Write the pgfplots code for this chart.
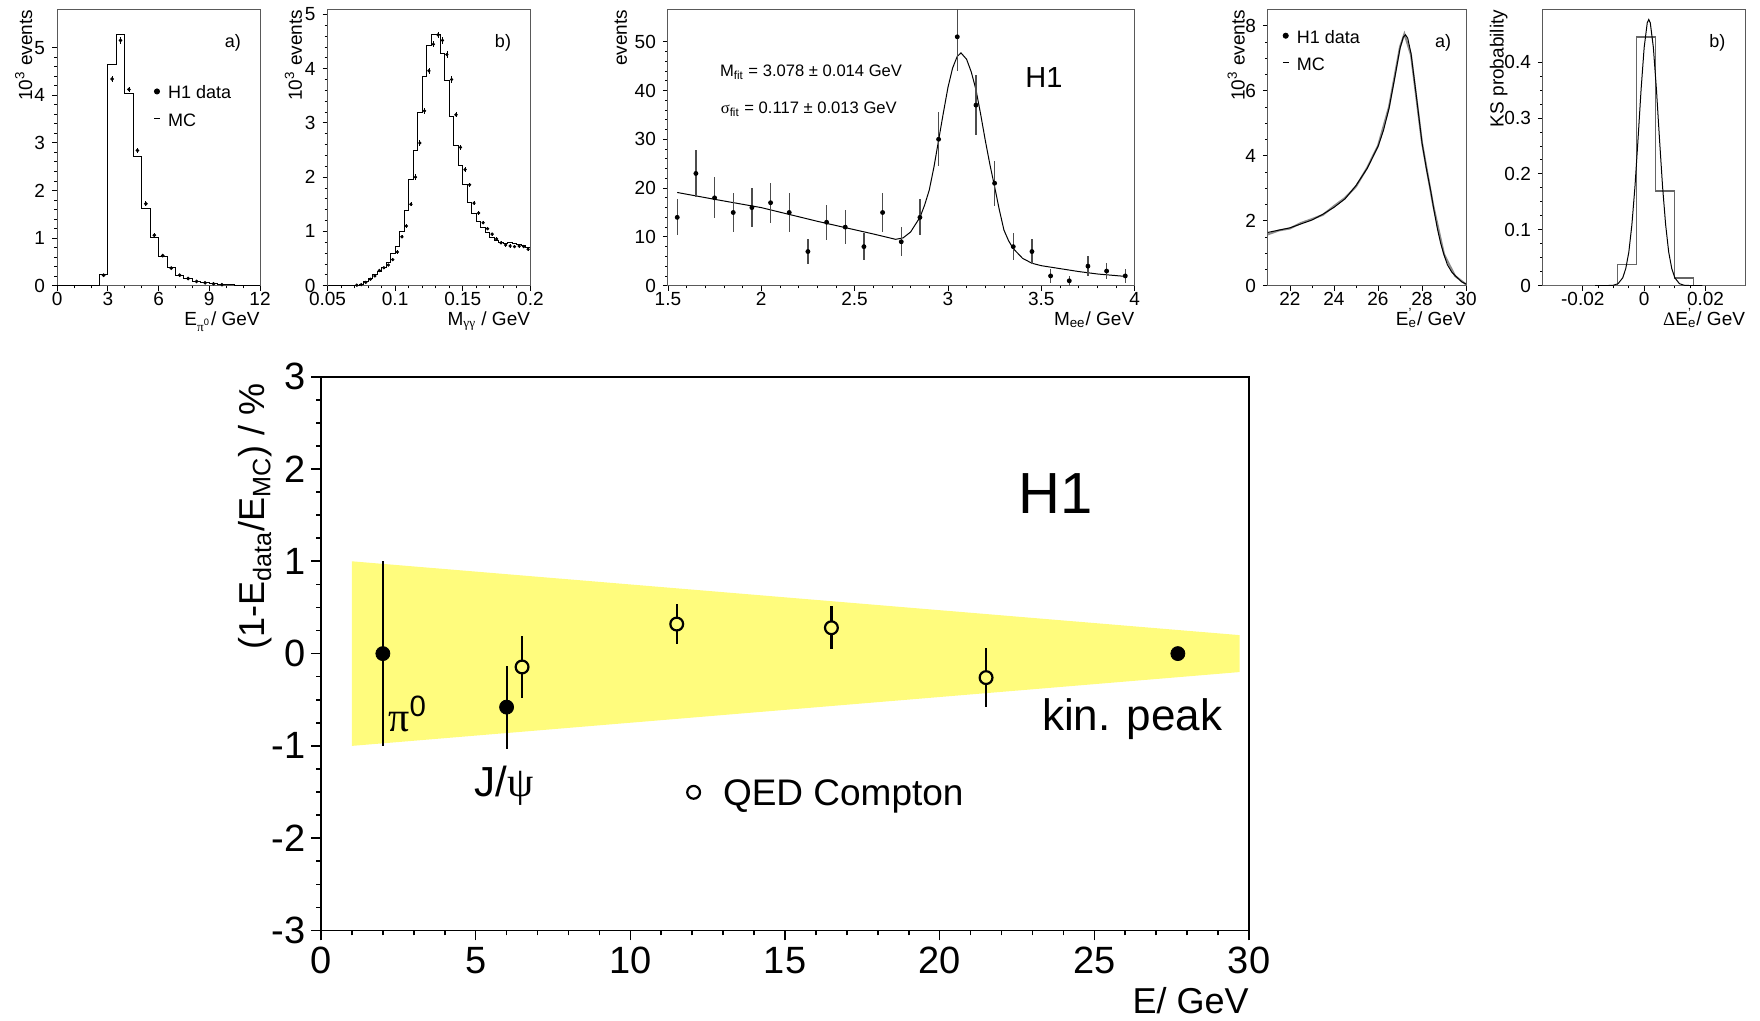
\documentclass[border=0pt]{standalone}
\usepackage{fontspec}
\setmainfont{Liberation Sans}
\newfontfamily\grk{Liberation Serif}
\usepackage{pgfplots}
\pgfplotsset{compat=1.18}

\definecolor{band}{RGB}{255,252,125}
\definecolor{frame}{gray}{0.35}
\newcommand{\fs}[1]{\fontsize{#1}{#1}\selectfont}

\tikzset{tag/.style={anchor=base west, inner sep=0pt, font=\fs{9}}}

\pgfplotsset{
  top/.style={
    scale only axis, anchor=south west, height=138.1pt,
    ymin=0,
    axis line style={frame, line width=0.5pt},
    tick pos=left, tick align=outside,
    major tick length=2.5pt, minor tick length=1.4pt,
    every tick/.append style={black, line width=0.4pt},
    scaled ticks=false,
    tick label style={font=\fs{9.5}},
    xticklabel style={inner sep=0.6pt},
    label style={font=\fs{9.5}},
    xlabel style={at={(rel axis cs:1,-0.1424)}, anchor=base east, inner sep=0pt},
  },
  ylab/.style={ylabel style={at={(rel axis cs:#1,1)}, anchor=base east, inner sep=0pt}},
  toplegend/.style={legend style={draw=none, fill=none, inner sep=0pt, outer sep=0pt,
      at={#1}, anchor=north west, font=\fs{9}, row sep=6.05pt,
      cells={anchor=base west},
      nodes={inner sep=0pt, text height=6.45pt, text depth=1.35pt}}},
  dataimg/.style={legend image code/.code={%
      \path[draw=none, fill=none] (-2pt,0pt) -- (5.6pt,0pt);
      \draw[black, mark=*, mark size=1.3pt] plot coordinates {(0pt,3.7pt)};}},
  mcimg/.style={legend image code/.code={%
      \path[draw=none, fill=none] (-2pt,0pt) -- (5.6pt,0pt);
      \draw[black, line width=0.6pt] (-1.4pt,4pt) -- (1.4pt,4pt);}},
  hdata/.style={black, only marks, mark=*, mark size=0.7pt,
    error bars/y dir=both, error bars/y explicit, error bars/error mark=none,
    error bars/error bar style={line width=0.4pt}},
}

\begin{document}
\begin{tikzpicture}
\path[use as bounding box] (0pt,0pt) rectangle (880pt,510.5pt);

% ---- a) pi0 energy
\begin{axis}[top, at={(28.55pt,367.65pt)}, width=101.45pt,
  xmin=0, xmax=12, ymax=5.8,
  xtick={0,3,6,9,12}, xticklabels={0,3,6,9,12},
  ytick={0,1,2,3,4,5}, yticklabels={0,1,2,3,4,5},
  minor x tick num=2, minor y tick num=4,
  xlabel={E\textsubscript{{\grk π}\textsuperscript{0}}/ GeV},
  ylabel={10\textsuperscript{3} events}, ylab=-0.1232,
  toplegend={(0.4726,0.7232)}]
\addlegendimage{dataimg}\addlegendentry{H1 data}
\addlegendimage{mcimg}\addlegendentry{MC}
\addplot[const plot, black, line width=0.5pt, forget plot] table[row sep=crcr]{
0 0\\ 2.5 0.24\\ 3 4.65\\ 3.5 5.28\\ 4 4.03\\ 4.5 2.71\\ 5 1.63\\ 5.5 1.02\\
6 0.62\\ 6.5 0.38\\ 7 0.22\\ 7.5 0.15\\ 8 0.08\\ 8.5 0.06\\ 9 0.04\\ 9.5 0.03\\
10 0.015\\ 10.5 0\\ 12 0\\
};
\addplot[hdata, forget plot] table[row sep=crcr, y error index=2]{
2.75 0.22 0.03\\ 3.25 4.34 0.07\\ 3.75 5.15 0.08\\ 4.25 4.12 0.06\\
4.75 2.84 0.06\\ 5.25 1.72 0.05\\ 5.75 1.06 0.04\\ 6.25 0.63 0.03\\
6.75 0.37 0.03\\ 7.25 0.22 0.02\\ 7.75 0.15 0.02\\ 8.25 0.09 0.02\\
8.75 0.06 0.01\\ 9.25 0.04 0.01\\ 9.75 0.02 0.01\\
};
\node[tag] at (rel axis cs:0.825,0.861) {a)};
\end{axis}

% ---- b) two-photon mass
\begin{axis}[top, at={(163.75pt,367.65pt)}, width=101.45pt,
  xmin=0.05, xmax=0.2, ymax=5.09,
  xtick={0.05,0.1,0.15,0.2}, xticklabels={0.05,0.1,0.15,0.2},
  ytick={0,1,2,3,4,5}, yticklabels={0,1,2,3,4,5},
  minor x tick num=4, minor y tick num=4,
  xlabel={M\textsubscript{{\grk γγ}} / GeV},
  ylabel={10\textsuperscript{3} events}, ylab=-0.1267]
\addplot[const plot, black, line width=0.5pt] table[row sep=crcr]{
0.0500 0\\ 0.0700 0.01\\ 0.0733 0.03\\ 0.0767 0.07\\ 0.0800 0.13\\ 0.0833 0.20\\
0.0867 0.27\\ 0.0900 0.33\\ 0.0933 0.43\\ 0.0967 0.60\\ 0.1000 0.72\\ 0.1033 0.99\\
0.1067 1.38\\ 0.1100 1.96\\ 0.1133 2.50\\ 0.1167 3.20\\ 0.1200 3.85\\ 0.1233 4.43\\
0.1267 4.63\\ 0.1300 4.63\\ 0.1333 4.28\\ 0.1367 3.78\\ 0.1400 3.12\\ 0.1433 2.58\\
0.1467 2.22\\ 0.1500 1.86\\ 0.1533 1.53\\ 0.1567 1.33\\ 0.1600 1.18\\ 0.1633 1.08\\
0.1667 0.98\\ 0.1700 0.88\\ 0.1733 0.84\\ 0.1767 0.80\\ 0.1800 0.78\\ 0.1833 0.79\\
0.1867 0.78\\ 0.1900 0.75\\ 0.1933 0.74\\ 0.1967 0.70\\ 0.2000 0.70\\
};
\addplot[hdata, mark size=0.6pt] table[row sep=crcr, y error index=2]{
0.0717 0.01 0.01\\ 0.0750 0.02 0.01\\ 0.0783 0.06 0.01\\ 0.0817 0.12 0.02\\
0.0850 0.18 0.02\\ 0.0883 0.28 0.02\\ 0.0917 0.33 0.02\\ 0.0950 0.38 0.02\\
0.0983 0.48 0.03\\ 0.1017 0.62 0.03\\ 0.1050 0.90 0.03\\ 0.1083 1.10 0.04\\
0.1117 1.50 0.04\\ 0.1150 2.00 0.05\\ 0.1183 2.63 0.05\\ 0.1217 3.22 0.05\\
0.1250 3.96 0.06\\ 0.1283 4.45 0.06\\ 0.1317 4.62 0.06\\ 0.1350 4.52 0.06\\
0.1383 4.26 0.06\\ 0.1417 3.80 0.06\\ 0.1450 3.15 0.05\\ 0.1483 2.55 0.05\\
0.1517 2.14 0.05\\ 0.1550 1.86 0.04\\ 0.1583 1.52 0.04\\ 0.1617 1.34 0.04\\
0.1650 1.16 0.03\\ 0.1683 1.05 0.03\\ 0.1717 0.95 0.03\\ 0.1750 0.86 0.03\\
0.1783 0.79 0.03\\ 0.1817 0.75 0.03\\ 0.1850 0.73 0.03\\ 0.1883 0.72 0.03\\
0.1917 0.73 0.03\\ 0.1950 0.72 0.03\\ 0.1983 0.67 0.03\\
};
\node[tag] at (rel axis cs:0.8235,0.861) {b)};
\end{axis}

% ---- J/psi mass
\begin{axis}[top, at={(333.95pt,367.65pt)}, width=233.35pt,
  xmin=1.5, xmax=4, ymax=56.6,
  xtick={1.5,2,2.5,3,3.5,4}, xticklabels={1.5,2,2.5,3,3.5,4},
  ytick={0,10,20,30,40,50}, yticklabels={0,10,20,30,40,50},
  minor x tick num=4, minor y tick num=4,
  xlabel={M\textsubscript{ee}/ GeV},
  ylabel={events}, ylab=-0.0881]
\addplot[black, line width=0.5pt] table[row sep=crcr]{
1.55 19.1\\ 1.75 17.7\\ 2.0 16.0\\ 2.15 14.6\\ 2.3 13.2\\ 2.45 11.9\\ 2.6 10.6\\
2.72 9.5\\ 2.76 9.8\\ 2.8 11.0\\ 2.85 14.0\\ 2.875 16.5\\ 2.9 19.6\\ 2.925 24.3\\
2.95 29.8\\ 2.975 35.3\\ 3.0 40.6\\ 3.025 44.6\\ 3.05 47.0\\ 3.07 47.7\\ 3.1 46.4\\
3.125 43.8\\ 3.15 40.2\\ 3.175 35.2\\ 3.2 29.8\\ 3.225 24.8\\ 3.25 20.3\\ 3.275 15.6\\
3.3 11.4\\ 3.325 9.2\\ 3.35 7.6\\ 3.4 5.6\\ 3.45 4.6\\ 3.5 4.1\\ 3.6 3.5\\ 3.7 2.9\\
3.8 2.4\\ 3.95 1.9\\
};
\addplot[hdata, mark size=1pt, error bars/error bar style={line width=0.6pt, black!70}]
  table[row sep=crcr, y error index=2]{
1.55 14 3.7\\ 1.65 23 4.8\\ 1.75 18 4.2\\ 1.85 15 3.9\\ 1.95 16 4.0\\
2.05 17 4.1\\ 2.15 15 3.9\\ 2.25 7 2.6\\ 2.35 13 3.6\\ 2.45 12 3.5\\
2.55 8 2.8\\ 2.65 15 3.9\\ 2.75 9 3.0\\ 2.85 14 3.7\\ 2.95 30 5.5\\
3.05 51 7.1\\ 3.15 37 6.1\\ 3.25 21 4.6\\ 3.35 8 2.8\\ 3.45 7 2.6\\
3.55 2 1.4\\ 3.65 1 1.0\\ 3.75 4 2.0\\ 3.85 3 1.7\\ 3.95 2 1.4\\
};
\node[anchor=base west, inner sep=0pt, font=\fs{8.3}] at (rel axis cs:0.1108,0.756)
  {M\textsubscript{fit} = 3.078 ± 0.014 GeV};
\node[anchor=base west, inner sep=0pt, font=\fs{8.3}] at (rel axis cs:0.1125,0.6237)
  {{\grk σ}\textsubscript{fit} = 0.117 ± 0.013 GeV};
\node[anchor=base west, inner sep=0pt, font=\fs{14.5}] at (rel axis cs:0.765,0.717) {H1};
\end{axis}

% ---- a) scattered electron energy
\begin{axis}[top, at={(633.95pt,367.65pt)}, width=99.05pt,
  xmin=21, xmax=30, ymax=8.5,
  xtick={22,24,26,28,30}, xticklabels={22,24,26,28,30},
  ytick={0,2,4,6,8}, yticklabels={0,2,4,6,8},
  minor x tick num=1, minor y tick num=3,
  xlabel={E\rlap{\textsuperscript{'}}\textsubscript{e}/ GeV},
  ylabel={10\textsuperscript{3} events}, ylab=-0.1176,
  toplegend={(0.0697,0.925)}]
\addlegendimage{dataimg}\addlegendentry{H1 data}
\addlegendimage{mcimg}\addlegendentry{MC}
\addplot[black!45, line width=1pt, forget plot] table[row sep=crcr]{
21.0 1.58\\ 21.5 1.70\\ 22.0 1.76\\ 22.5 1.93\\ 23.0 2.05\\ 23.5 2.18\\ 24.0 2.45\\
24.5 2.70\\ 25.0 3.05\\ 25.5 3.62\\ 26.0 4.30\\ 26.5 5.50\\ 27.0 7.35\\ 27.2 7.75\\
27.5 7.10\\ 28.0 4.40\\ 28.5 2.50\\ 29.0 0.97\\ 29.5 0.30\\ 30.0 0.04\\
};
\addplot[black, line width=0.5pt, forget plot] table[row sep=crcr]{
21.0 1.64\\ 21.5 1.71\\ 22.0 1.78\\ 22.5 1.90\\ 23.0 2.02\\ 23.5 2.20\\ 24.0 2.41\\
24.5 2.67\\ 25.0 3.08\\ 25.5 3.60\\ 26.0 4.28\\ 26.25 4.78\\ 26.5 5.45\\ 26.75 6.35\\
27.0 7.30\\ 27.15 7.65\\ 27.25 7.72\\ 27.35 7.62\\ 27.5 7.15\\ 27.75 5.80\\ 28.0 4.40\\
28.2 3.60\\ 28.4 2.90\\ 28.55 2.30\\ 28.7 1.75\\ 28.85 1.30\\ 29.0 0.95\\ 29.15 0.65\\
29.35 0.42\\ 29.6 0.25\\ 29.8 0.12\\ 30.0 0.05\\
};
\node[tag] at (rel axis cs:0.8415,0.861) {a)};
\end{axis}

% ---- b) KS probability
\begin{axis}[top, at={(771.45pt,367.65pt)}, width=101.25pt,
  xmin=-0.033, xmax=0.033, ymax=0.494,
  xtick={-0.02,0,0.02}, xticklabels={-0.02,0,0.02},
  ytick={0,0.1,0.2,0.3,0.4}, yticklabels={0,0.1,0.2,0.3,0.4},
  minor x tick num=3, minor y tick num=3,
  xlabel={{\grk Δ}E\rlap{\textsuperscript{'}}\textsubscript{e}/ GeV},
  ylabel={KS probability}, ylab=-0.1946]
\addplot[const plot, black!60, line width=0.8pt] coordinates {
(-0.033,0) (-0.0087,0.038) (-0.0025,0.445) (0.0037,0.169) (0.0099,0.0137) (0.0161,0) (0.033,0)};
\addplot[black, line width=0.5pt] coordinates {
(-0.016,0) (-0.012,0.0002) (-0.0100,0.0008) (-0.0085,0.0036) (-0.007,0.014) (-0.006,0.0305)
(-0.005,0.060) (-0.004,0.109) (-0.003,0.177) (-0.002,0.262) (-0.001,0.351) (0,0.426)
(0.001,0.470) (0.0015,0.476) (0.002,0.470) (0.003,0.426) (0.004,0.351) (0.005,0.262)
(0.006,0.177) (0.007,0.109) (0.008,0.060) (0.009,0.0305) (0.010,0.014) (0.0115,0.0036)
(0.013,0.0008) (0.015,0.0002) (0.019,0)};
\node[tag] at (rel axis cs:0.820,0.861) {b)};
\end{axis}

% ---- energy scale summary
\begin{axis}[at={(160.5pt,45.25pt)}, anchor=south west, scale only axis,
  width=464pt, height=276.9pt,
  xmin=0, xmax=30, ymin=-3, ymax=3,
  xtick={0,5,10,15,20,25,30}, xticklabels={0,5,10,15,20,25,30},
  ytick={-3,-2,-1,0,1,2,3}, yticklabels={-3,-2,-1,0,1,2,3},
  minor x tick num=4, minor y tick num=3,
  tick pos=left, tick align=outside,
  major tick length=5pt, minor tick length=2.5pt,
  every tick/.append style={black, line width=0.8pt},
  axis line style={black, line width=0.8pt},
  tick label style={font=\fs{19}},
  xticklabel style={inner sep=3pt},
  yticklabel style={inner sep=2.5pt},
  xlabel={E/ GeV},
  ylabel={(1-E\textsubscript{data}/E\textsubscript{MC}) / \%},
  label style={font=\fs{18}},
  xlabel style={at={(rel axis cs:1,-0.149)}, anchor=base east, inner sep=0pt},
  ylabel style={at={(rel axis cs:-0.0606,0.9886)}, anchor=base east, inner sep=0pt},
  legend style={draw=none, fill=none, inner sep=0pt, outer sep=0pt,
    at={(axis cs:11.755,-1.359)}, anchor=north west, font=\fs{18.5},
    cells={anchor=base west},
    nodes={inner sep=0pt, text height=13.25pt, text depth=3.9pt}}]
\addlegendimage{legend image code/.code={%
  \path[draw=none, fill=none] (-4.5pt,0pt) -- (14.7pt,0pt);
  \draw[black, line width=1.1pt, mark=*, mark size=3.2pt, mark options={fill=white}]
    plot coordinates {(0pt,6.6pt)};}}
\addlegendentry{QED Compton}
\addplot[draw=none, fill=band, forget plot] coordinates {
(1,1) (29.7,0.2) (29.7,-0.2) (1,-1)} -- cycle;
\addplot[black, only marks, mark=*, mark size=3.5pt, mark options={line width=0.4pt},
  error bars/y dir=both, error bars/y explicit, error bars/error mark=none,
  error bars/error bar style={line width=1.1pt}, forget plot]
  table[row sep=crcr, y error index=2]{
2 0 1\\ 6 -0.58 0.45\\ 27.7 0 0.05\\
};
\addplot[black, only marks, mark=*, mark size=3.2pt,
  mark options={fill=band, line width=1.1pt},
  error bars/y dir=both, error bars/y explicit, error bars/error mark=none,
  error bars/error bar style={line width=1.1pt}, forget plot]
  table[row sep=crcr, y error index=2]{
6.5 -0.145 0.335\\ 11.5 0.32 0.22\\ 16.5 0.28 0.235\\ 21.5 -0.26 0.32\\
};
\node[anchor=base west, inner sep=0pt, font=\fs{29}] at (axis cs:22.55,1.52) {H1};
\node[anchor=base west, inner sep=0pt, font=\fs{22}] at (axis cs:23.30,-0.835) {kin. peak};
\node[anchor=base west, inner sep=0pt, font=\fs{21}] at (axis cs:2.17,-0.846)
  {{\grk π}\textsuperscript{0}};
\node[anchor=base west, inner sep=0pt, font=\fs{21}] at (axis cs:4.95,-1.543) {J/{\grk ψ}};
\end{axis}
\end{tikzpicture}
\end{document}
